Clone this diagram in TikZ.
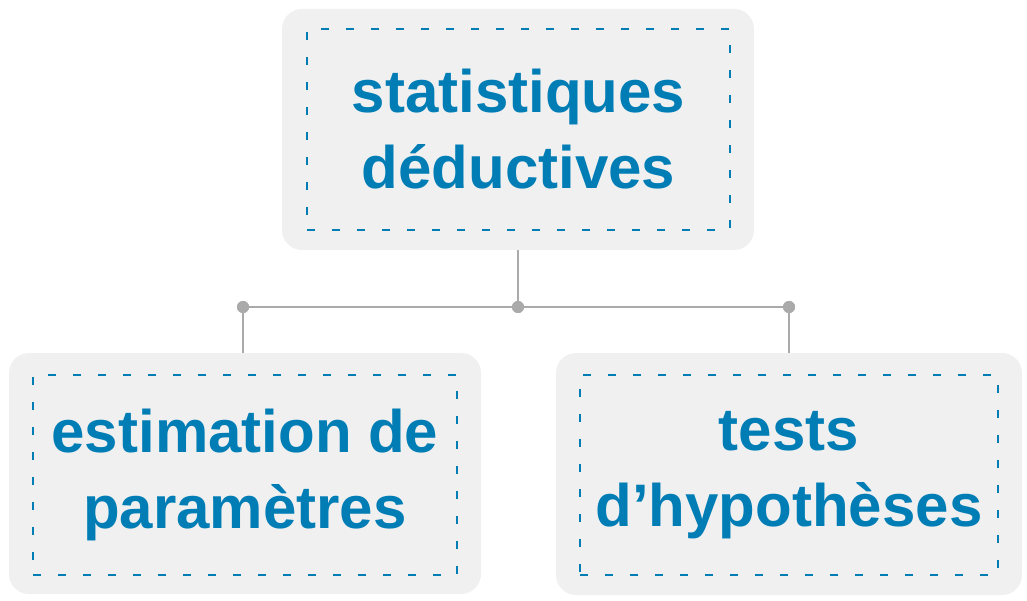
\documentclass[tikz,border=0pt]{standalone}
\usepackage{fontspec}
\setmainfont{Liberation Sans}
\definecolor{txtblue}{HTML}{007DB5}
\definecolor{boxgray}{HTML}{F0F0F0}
\definecolor{linegray}{HTML}{AAAAAA}
\tikzset{
  outerbox/.style={draw=none, fill=boxgray, rounded corners=20pt, inner sep=0pt},
  innerbox/.style={draw=txtblue, line width=1.3pt, dash pattern=on 8pt off 17pt, inner sep=0pt,
     align=center, text=txtblue, font=\fontsize{60}{76}\selectfont\bfseries},
  joint/.style={circle, fill=linegray, inner sep=0pt, minimum size=12pt},
  conn/.style={draw=linegray, line width=2pt},
}
\begin{document}
\begin{tikzpicture}[x=1pt,y=-1pt]
\useasboundingbox (0,0) rectangle (1027,601);
% boxes
\node[outerbox, minimum width=472pt, minimum height=241pt] (top) at (518,129.5) {};
\node[innerbox, minimum width=423pt, minimum height=201pt] (topin) at (518.5,129.5) {statistiques\\déductives};
\node[outerbox, minimum width=472pt, minimum height=241pt] (left) at (245,473.5) {};
\node[innerbox, minimum width=424pt, minimum height=200pt] (leftin) at (245,475) {estimation de\\paramètres};
\node[outerbox, minimum width=466pt, minimum height=242pt] (right) at (789,474) {};
\node[innerbox, minimum width=418pt, minimum height=200pt] (rightin) at (789,475) {tests\\d’hypothèses};
% joints
\node[joint] (jm) at (518,307) {};
\node[joint] (jl) at (243,307) {};
\node[joint] (jr) at (789,307) {};
% connectors
\draw[conn] (top.south) -- (jm.center);
\draw[conn] (jl.center) -- (jr.center);
\draw[conn] (jl.center) -- (jl |- left.north);
\draw[conn] (jr.center) -- (jr |- right.north);
\node[joint] at (jm) {};
\node[joint] at (jl) {};
\node[joint] at (jr) {};
\end{tikzpicture}
\end{document}
